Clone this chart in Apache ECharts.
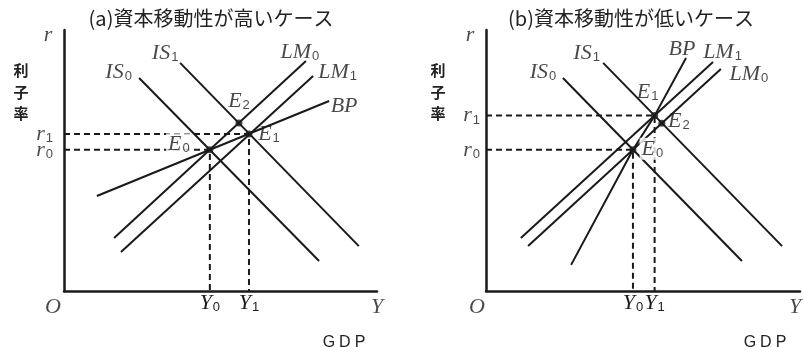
<!DOCTYPE html>
<html>
<head>
<meta charset="utf-8">
<script src="https://cdn.jsdelivr.net/npm/echarts@6.0.0/dist/echarts.min.js"></script>
<style>
  html, body { margin: 0; padding: 0; background: #fff; }
  #chart { width: 804px; height: 347px; }
</style>
</head>
<body>
<div id="chart"></div>
<script>
// Panel (a): high capital mobility (flat BP)
const isA0 = [[24.0, 81.6], [81.5, 11.5]];
const isA1 = [[37.1, 87.4], [94.2, 17.2]];
const lmA0 = [[16.0, 20.3], [77.3, 88.1]];
const lmA1 = [[18.2, 14.9], [79.6, 82.4]];
const bpA  = [[10.5, 36.4], [84.7, 72.8]];
const eqA  = [[46.6, 54.1], [59.1, 60.2], [55.9, 64.4]];   // E0, E1, E2

// Panel (b): low capital mobility (steep BP)
const isB0 = [[24.5, 81.6], [81.5, 11.5]];
const isB1 = [[37.3, 87.4], [94.3, 17.2]];
const lmB0 = [[13.4, 17.2], [74.8, 85.1]];
const lmB1 = [[11.1, 20.3], [72.3, 87.7]];
const bpB  = [[27.1, 10.0], [46.8, 54.1], [53.7, 67.2], [63.7, 89.3]];
const eqB  = [[46.8, 54.1], [53.7, 67.2], [56.0, 64.3]];   // E0, E1, E2

const eqNames    = ['E0', 'E1', 'E2'];
const xTickNames = ['Y0', 'Y1'];
const yTickNames = ['r0', 'r1'];
const axisEnds   = [[0, 0], [100, 0], [0, 100]];
const axisEndNames = ['O', 'Y', 'r'];

const INK = '#1a1a1a';
const SERIF = '"Liberation Serif", "DejaVu Serif", serif';
const SANS = '"Liberation Sans", "DejaVu Sans", sans-serif';
const CJK = '"Noto Sans CJK JP", "Noto Sans CJK SC", sans-serif';

const richBase = {
  i: { fontFamily: SERIF, fontStyle: 'italic', fontWeight: 'normal', fontSize: 22, color: INK, verticalAlign: 'bottom', lineHeight: 22 },
  s: { fontFamily: SANS, fontWeight: 'normal', fontSize: 13, color: INK, verticalAlign: 'bottom', lineHeight: 22, padding: [0, 0, 0, 1] }
};
const richAxis = {
  i: Object.assign({}, richBase.i, { lineHeight: 16 }),
  s: Object.assign({}, richBase.s, { lineHeight: 16 })
};

// "IS0" -> italic letters with an upright subscript digit
function sym(name) {
  const m = name.match(/^(.*?)(\d)$/);
  return m ? '{i|' + m[1] + '}{s|' + m[2] + '}' : '{i|' + name + '}';
}

function topEnd(pts) {
  return pts.reduce((a, b) => (b[1] > a[1] ? b : a));
}

function textMarks(g, z, items) {
  return {
    type: 'scatter', xAxisIndex: g, yAxisIndex: g, z: z,
    symbolSize: 0, silent: true,
    data: items.map(it => ({
      value: it.at,
      label: {
        show: true, position: it.off, align: it.align || 'center', verticalAlign: 'middle',
        formatter: sym(it.name), rich: richBase
      }
    }))
  };
}

function buildPanel(g, curves, eq, eqOffsets, endOffsets, rMargin) {
  const series = [];
  // dashed guides from E0 and E1 to both axes
  [0, 1].forEach(k => {
    const p = eq[k];
    series.push({
      type: 'line', xAxisIndex: g, yAxisIndex: g, z: 1,
      data: [[0, p[1]], [p[0], p[1]], [p[0], 0]],
      symbol: 'none', silent: true,
      lineStyle: { color: INK, width: 2, type: [6, 4] }
    });
  });
  // IS, LM and BP schedules
  curves.forEach(c => {
    series.push({
      type: 'line', xAxisIndex: g, yAxisIndex: g, z: 2,
      data: c.pts, symbol: 'none', silent: true,
      lineStyle: { color: INK, width: 2 }
    });
  });
  // curve names at their upper ends
  series.push(textMarks(g, 4, curves.map(c => ({ at: topEnd(c.pts), off: c.off, name: c.name }))));
  // origin, Y and r at the ends of the axes
  series.push(textMarks(g, 4, axisEnds.map((p, k) => ({ at: p, off: endOffsets[k], name: axisEndNames[k] }))));
  // r0, r1 beside the vertical axis
  series.push(textMarks(g, 4, [0, 1].map(k => ({
    at: [0, eq[k][1]], off: [-rMargin, 0], align: 'right', name: yTickNames[k]
  }))));
  // equilibrium points
  series.push({
    type: 'scatter', xAxisIndex: g, yAxisIndex: g, z: 5,
    symbol: 'circle', symbolSize: 7, silent: true,
    itemStyle: { color: INK },
    data: eq.map((p, k) => ({
      value: p,
      label: {
        show: true, position: eqOffsets[k].pos, align: 'center', verticalAlign: 'middle',
        formatter: sym(eqNames[k]), rich: richBase,
        backgroundColor: eqOffsets[k].bg ? '#fff' : 'transparent',
        padding: eqOffsets[k].bg ? [0, 2, 0, 2] : 0
      }
    }))
  });
  return series;
}

function xAxisFor(g, eq) {
  const vals = [eq[0][0], eq[1][0]];
  return {
    type: 'value', gridIndex: g, min: 0, max: 100,
    axisLine: { show: true, onZero: false, lineStyle: { color: INK, width: 2.5 } },
    axisTick: { show: false }, splitLine: { show: false },
    axisLabel: {
      show: true, margin: 7, customValues: vals, hideOverlap: false,
      formatter: function (v) { return sym(xTickNames[vals.indexOf(v)]); },
      rich: richAxis
    }
  };
}

function yAxisFor(g) {
  return {
    type: 'value', gridIndex: g, min: 0, max: 100,
    axisLine: { show: true, onZero: false, lineStyle: { color: INK, width: 2.5 } },
    axisTick: { show: false }, splitLine: { show: false },
    axisLabel: { show: false }
  };
}

const curvesA = [
  { pts: isA0, name: 'IS0', off: [-20.5, -6] },
  { pts: isA1, name: 'IS1', off: [-15, -10] },
  { pts: lmA0, name: 'LM0', off: [-6, -9] },
  { pts: lmA1, name: 'LM1', off: [24.5, -4] },
  { pts: bpA,  name: 'BP',  off: [15, 5] }
];
const curvesB = [
  { pts: isB0, name: 'IS0', off: [-20, -6] },
  { pts: isB1, name: 'IS1', off: [-16.5, -10] },
  { pts: bpB,  name: 'BP',  off: [-4, -9] },
  { pts: lmB1, name: 'LM1', off: [9.5, -10] },
  { pts: lmB0, name: 'LM0', off: [28, 5] }
];
const eqLabA = [{ pos: [-27.5, -2], bg: true }, { pos: [23.5, 4] }, { pos: [3.5, -18] }];
const eqLabB = [{ pos: [23, 2.5], bg: true }, { pos: [-3.5, -20] }, { pos: [20.5, 1.5] }];
const endLabA = [[-11, 16], [0, 16], [-16, 5]];
const endLabB = [[-9, 16], [-5, 16], [-16, 5]];

const titleStyle = { fontFamily: CJK, fontSize: 20, fontWeight: 'normal', color: '#222' };
const axisNameStyle = { fontFamily: CJK, fontSize: 15, fontWeight: 'bold', color: '#222', lineHeight: 21.5 };
const gdpStyle = {
  fontFamily: SANS, fontSize: 16, fontWeight: 'normal', color: '#222',
  rich: { g: { fontFamily: SANS, fontSize: 16, fontWeight: 'normal', color: '#222', padding: [0, 2, 0, 2] } }
};

const option = {
  animation: false,
  backgroundColor: '#fff',
  title: [
    { text: '(a)資本移動性が高いケース', left: 206, top: 3, textAlign: 'center', textStyle: titleStyle },
    { text: '(b)資本移動性が低いケース', left: 626, top: 3, textAlign: 'center', textStyle: titleStyle },
    { text: '利\n子\n率', left: 16, top: 55, textAlign: 'center', textStyle: axisNameStyle },
    { text: '利\n子\n率', left: 433, top: 55, textAlign: 'center', textStyle: axisNameStyle },
    { text: '{g|G}{g|D}{g|P}', left: 339, top: 330, textAlign: 'center', textStyle: gdpStyle },
    { text: '{g|G}{g|D}{g|P}', left: 760, top: 330, textAlign: 'center', textStyle: gdpStyle }
  ],
  grid: [
    { left: 64, top: 30, width: 313, height: 261, containLabel: false, outerBoundsMode: 'none' },
    { left: 486, top: 30, width: 314, height: 261, containLabel: false, outerBoundsMode: 'none' }
  ],
  xAxis: [xAxisFor(0, eqA), xAxisFor(1, eqB)],
  yAxis: [yAxisFor(0), yAxisFor(1)],
  series: [].concat(
    buildPanel(0, curvesA, eqA, eqLabA, endLabA, 11),
    buildPanel(1, curvesB, eqB, eqLabB, endLabB, 6)
  )
};

const chart = echarts.init(document.getElementById('chart'), null, { renderer: 'canvas' });
chart.setOption(option);
</script>
</body>
</html>
